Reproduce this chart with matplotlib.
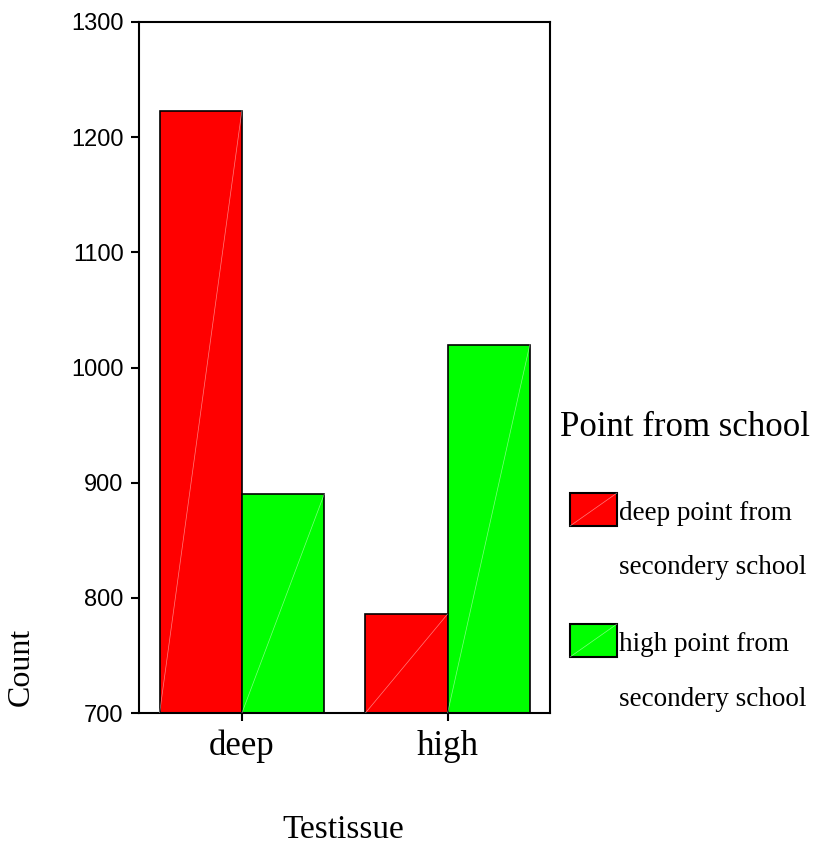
import numpy as np
import matplotlib
matplotlib.use("Agg")
import matplotlib.pyplot as plt
from matplotlib.patches import Rectangle

# data ------------------------------------------------------------
categories = ["deep", "high"]
legend_title = "Point from school"
series_names = [["deep point from", "secondery school"],
                ["high point from", "secondery school"]]
deep_counts = [1223, 786]
high_counts = [890, 1020]
colors = ["#ff0000", "#00ff00"]

SERIF = "Liberation Serif"
SANS = "Liberation Sans"

# figure ----------------------------------------------------------
fig = plt.figure(figsize=(8.13, 8.46), dpi=100)
ax = fig.add_axes([0.171, 0.157, 0.506, 0.817])

x = np.arange(len(categories))
w = 0.4
for i, vals in enumerate([deep_counts, high_counts]):
    pos = x - w / 2 + i * w
    ax.bar(pos, [v - 700 for v in vals], width=w, bottom=700, color=colors[i],
           edgecolor="black", linewidth=1.2, align="center", zorder=2)
    # faint diagonal streak across each bar
    for p, v in zip(pos, vals):
        ax.plot([p - w / 2, p + w / 2], [700, v], color="white", lw=0.5,
                alpha=0.5, zorder=3)

ax.set_xlim(-0.5, 1.5)
ax.set_ylim(700, 1300)
ax.set_yticks([700, 800, 900, 1000, 1100, 1200, 1300])
ax.set_xticks(x)
ax.set_xticklabels(categories, fontfamily=SERIF, fontsize=25)
for lbl in ax.get_yticklabels():
    lbl.set_fontfamily(SANS)
    lbl.set_fontsize(17)
ax.tick_params(axis="both", direction="out", length=6, width=1.5, pad=5)
ax.tick_params(axis="x", pad=6)
for s in ax.spines.values():
    s.set_linewidth(1.5)

fig.text(0.4225, 1 - 845 / 846, "Testissue", fontfamily=SERIF, fontsize=24,
         ha="center", va="bottom")
fig.text(0.026, 1 - 667 / 846, "Count", fontfamily=SERIF, fontsize=23,
         ha="center", va="center", rotation=90)

# legend, drawn by hand (patch sits beside the first label line) ---
fig.text(560 / 813, 1 - 428 / 846, legend_title, fontfamily=SERIF, fontsize=25,
         ha="left", va="center")
step = 131 / 846
for i, (c, lines) in enumerate(zip(colors, series_names)):
    top = 1 - 493 / 846 - i * step
    h = 33 / 846
    fig.add_artist(Rectangle((570 / 813, top - h), 47 / 813, h,
                             transform=fig.transFigure, facecolor=c,
                             edgecolor="black", linewidth=1.5))
    fig.add_artist(plt.Line2D([570 / 813, 617 / 813], [top - h, top],
                              transform=fig.transFigure, color="white",
                              lw=0.5, alpha=0.5))
    for j, line in enumerate(lines):
        fig.text(619 / 813, top - 20 / 846 - j * 55 / 846, line,
                 fontfamily=SERIF, fontsize=19.5, ha="left", va="center")

fig.savefig("out.png", dpi=100)
